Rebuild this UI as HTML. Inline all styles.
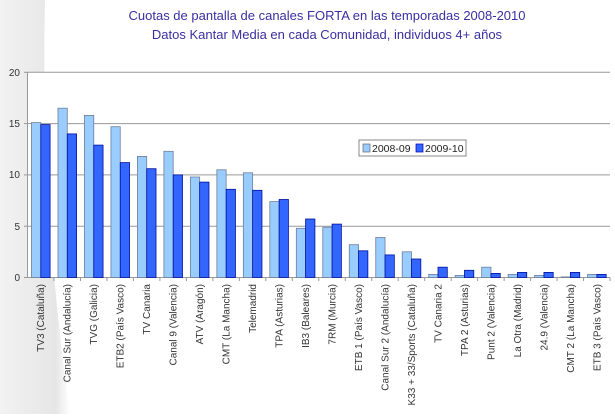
<!DOCTYPE html>
<html><head><meta charset="utf-8"><style>
body{margin:0;width:615px;height:414px;overflow:hidden;background:#fff;font-family:"Liberation Sans",sans-serif}
</style></head><body>
<svg width="615" height="414" xmlns="http://www.w3.org/2000/svg">
<defs><linearGradient id="sw" x1="0" x2="1"><stop offset="0" stop-color="#f2f2f2"/><stop offset="0.8" stop-color="#e6e6e6"/><stop offset="1" stop-color="#fff"/></linearGradient></defs>
<path d="M0 0 L45 0 Q40 200 70 414 L0 414 Z" fill="url(#sw)"/>
<text x="327" y="20" text-anchor="middle" font-size="13" fill="#3a2fa0">Cuotas de pantalla de canales FORTA en las temporadas 2008-2010</text>
<text x="327" y="39" text-anchor="middle" font-size="13" fill="#3a2fa0">Datos Kantar Media en cada Comunidad, individuos 4+ años</text>
<rect x="27.5" y="72.3" width="582.5" height="205.2" fill="#fff"/>
<g stroke="#999" stroke-width="1">
<line x1="27.5" y1="72.3" x2="610" y2="72.3"/><line x1="27.5" y1="123.6" x2="610" y2="123.6"/>
<line x1="27.5" y1="174.9" x2="610" y2="174.9"/><line x1="27.5" y1="226.2" x2="610" y2="226.2"/>
<line x1="27.5" y1="72.3" x2="27.5" y2="277.5"/><line x1="24" y1="277.5" x2="610" y2="277.5"/>
<line x1="24" y1="72.3" x2="27.5" y2="72.3"/><line x1="24" y1="123.6" x2="27.5" y2="123.6"/><line x1="24" y1="174.9" x2="27.5" y2="174.9"/><line x1="24" y1="226.2" x2="27.5" y2="226.2"/>
<line x1="53.98" y1="277.5" x2="53.98" y2="281"/><line x1="80.46" y1="277.5" x2="80.46" y2="281"/><line x1="106.94" y1="277.5" x2="106.94" y2="281"/><line x1="133.42" y1="277.5" x2="133.42" y2="281"/><line x1="159.9" y1="277.5" x2="159.9" y2="281"/><line x1="186.38" y1="277.5" x2="186.38" y2="281"/><line x1="212.86" y1="277.5" x2="212.86" y2="281"/><line x1="239.34" y1="277.5" x2="239.34" y2="281"/><line x1="265.82" y1="277.5" x2="265.82" y2="281"/><line x1="292.3" y1="277.5" x2="292.3" y2="281"/><line x1="318.78" y1="277.5" x2="318.78" y2="281"/><line x1="345.26" y1="277.5" x2="345.26" y2="281"/><line x1="371.74" y1="277.5" x2="371.74" y2="281"/><line x1="398.22" y1="277.5" x2="398.22" y2="281"/><line x1="424.7" y1="277.5" x2="424.7" y2="281"/><line x1="451.18" y1="277.5" x2="451.18" y2="281"/><line x1="477.66" y1="277.5" x2="477.66" y2="281"/><line x1="504.14" y1="277.5" x2="504.14" y2="281"/><line x1="530.62" y1="277.5" x2="530.62" y2="281"/><line x1="557.1" y1="277.5" x2="557.1" y2="281"/><line x1="583.58" y1="277.5" x2="583.58" y2="281"/><line x1="610" y1="277.5" x2="610" y2="281"/>
</g>
<g font-size="10" fill="#333" text-anchor="end">
<text x="20" y="76">20</text><text x="20" y="127">15</text><text x="20" y="178">10</text><text x="20" y="230">5</text><text x="20" y="281">0</text>
</g>
<g transform="translate(0,277.5) scale(1,-1)" stroke-width="0.8">
<g fill="#99ccff" stroke="#6d7f99">
<rect x="31.5" y="0" width="9.3" height="154.9"/>
<rect x="57.98" y="0" width="9.3" height="169.3"/>
<rect x="84.46" y="0" width="9.3" height="162.1"/>
<rect x="110.94" y="0" width="9.3" height="150.8"/>
<rect x="137.42" y="0" width="9.3" height="121.1"/>
<rect x="163.9" y="0" width="9.3" height="126.2"/>
<rect x="190.38" y="0" width="9.3" height="100.5"/>
<rect x="216.86" y="0" width="9.3" height="107.7"/>
<rect x="243.34" y="0" width="9.3" height="104.7"/>
<rect x="269.82" y="0" width="9.3" height="75.9"/>
<rect x="296.3" y="0" width="9.3" height="49.2"/>
<rect x="322.78" y="0" width="9.3" height="50.3"/>
<rect x="349.26" y="0" width="9.3" height="32.8"/>
<rect x="375.74" y="0" width="9.3" height="40.0"/>
<rect x="402.22" y="0" width="9.3" height="25.7"/>
<rect x="428.7" y="0" width="9.3" height="3.1"/>
<rect x="455.18" y="0" width="9.3" height="2.1"/>
<rect x="481.66" y="0" width="9.3" height="10.3"/>
<rect x="508.14" y="0" width="9.3" height="3.1"/>
<rect x="534.62" y="0" width="9.3" height="2.1"/>
<rect x="561.1" y="0" width="9.3" height="0.6"/>
<rect x="587.58" y="0" width="9.3" height="3.1"/>
</g>
<g fill="#3366ff" stroke="#0010a0">
<rect x="40.8" y="0" width="9.3" height="152.9"/>
<rect x="67.28" y="0" width="9.3" height="143.6"/>
<rect x="93.76" y="0" width="9.3" height="132.4"/>
<rect x="120.24" y="0" width="9.3" height="114.9"/>
<rect x="146.72" y="0" width="9.3" height="108.8"/>
<rect x="173.2" y="0" width="9.3" height="102.6"/>
<rect x="199.68" y="0" width="9.3" height="95.4"/>
<rect x="226.16" y="0" width="9.3" height="88.2"/>
<rect x="252.64" y="0" width="9.3" height="87.2"/>
<rect x="279.12" y="0" width="9.3" height="78.0"/>
<rect x="305.6" y="0" width="9.3" height="58.5"/>
<rect x="332.08" y="0" width="9.3" height="53.4"/>
<rect x="358.56" y="0" width="9.3" height="26.7"/>
<rect x="385.04" y="0" width="9.3" height="22.6"/>
<rect x="411.52" y="0" width="9.3" height="18.5"/>
<rect x="438.0" y="0" width="9.3" height="10.3"/>
<rect x="464.48" y="0" width="9.3" height="7.2"/>
<rect x="490.96" y="0" width="9.3" height="4.1"/>
<rect x="517.44" y="0" width="9.3" height="5.1"/>
<rect x="543.92" y="0" width="9.3" height="5.1"/>
<rect x="570.4" y="0" width="9.3" height="5.1"/>
<rect x="596.88" y="0" width="9.3" height="3.1"/>
</g>
</g>
<g font-size="10" fill="#333" text-anchor="end">
<text transform="translate(44.2,284) rotate(-90)">TV3 (Cataluña)</text>
<text transform="translate(70.7,284) rotate(-90)">Canal Sur (Andalucía)</text>
<text transform="translate(97.2,284) rotate(-90)">TVG (Galicia)</text>
<text transform="translate(123.7,284) rotate(-90)">ETB2 (País Vasco)</text>
<text transform="translate(150.2,284) rotate(-90)">TV Canaria</text>
<text transform="translate(176.6,284) rotate(-90)">Canal 9 (Valencia)</text>
<text transform="translate(203.1,284) rotate(-90)">ATV (Aragón)</text>
<text transform="translate(229.6,284) rotate(-90)">CMT (La Mancha)</text>
<text transform="translate(256.1,284) rotate(-90)">Telemadrid</text>
<text transform="translate(282.6,284) rotate(-90)">TPA (Asturias)</text>
<text transform="translate(309.0,284) rotate(-90)">IB3 (Baleares)</text>
<text transform="translate(335.5,284) rotate(-90)">7RM (Murcia)</text>
<text transform="translate(362.0,284) rotate(-90)">ETB 1 (País Vasco)</text>
<text transform="translate(388.5,284) rotate(-90)">Canal Sur 2 (Andalucía)</text>
<text transform="translate(415.0,284) rotate(-90)">K33 + 33/Sports (Cataluña)</text>
<text transform="translate(441.4,284) rotate(-90)">TV Canaria 2</text>
<text transform="translate(467.9,284) rotate(-90)">TPA 2 (Asturias)</text>
<text transform="translate(494.4,284) rotate(-90)">Punt 2 (Valencia)</text>
<text transform="translate(520.9,284) rotate(-90)">La Otra (Madrid)</text>
<text transform="translate(547.4,284) rotate(-90)">24.9 (Valencia)</text>
<text transform="translate(573.8,284) rotate(-90)">CMT 2 (La Mancha)</text>
<text transform="translate(600.3,284) rotate(-90)">ETB 3 (País Vasco)</text>
</g>
<rect x="359" y="140" width="107" height="16" fill="#fff" stroke="#888"/>
<rect x="363" y="144" width="7" height="8" fill="#99ccff" stroke="#666" stroke-width="0.7"/>
<text x="372" y="152" font-size="10.5" fill="#222">2008-09</text>
<rect x="416" y="144" width="7" height="8" fill="#3366ff" stroke="#0000aa" stroke-width="0.7"/>
<text x="425" y="152" font-size="10.5" fill="#222">2009-10</text>
</svg>
</body></html>
